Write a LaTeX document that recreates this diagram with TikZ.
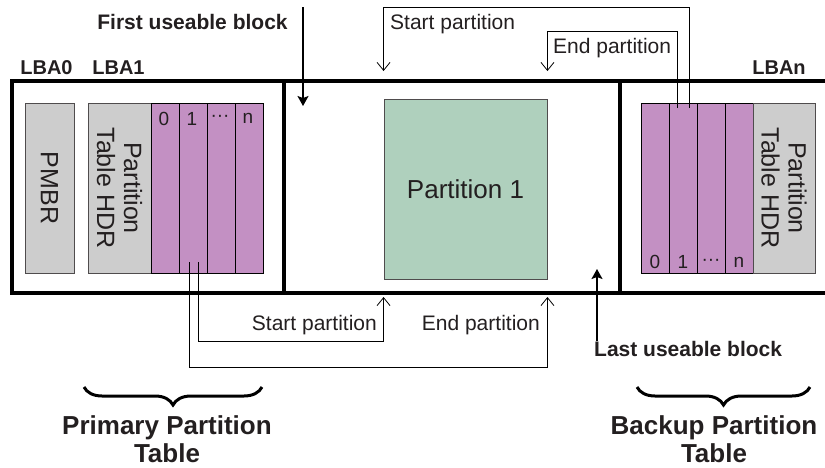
\documentclass[tikz,border=0pt]{standalone}
\usepackage{fontspec}
\setmainfont{Liberation Sans}
\usepackage{tikz}
\usetikzlibrary{calc, arrows.meta, positioning, decorations.pathreplacing}

\definecolor{hdrgray}{RGB}{205,205,205}
\definecolor{entry}{RGB}{195,144,195}
\definecolor{partgreen}{RGB}{175,208,189}
\definecolor{ink}{RGB}{35,31,32}

\begin{document}
\begin{tikzpicture}[
        x=1pt, y=-1pt,
        every node/.style={text=ink},
        frame/.style={line width=4.5pt, line join=miter},
        hdr/.style={draw=ink!80, fill=hdrgray, line width=0.9pt, rotate=-90,
                    align=center, inner sep=0pt, minimum width=170pt,
                    font=\fontsize{25}{27}\selectfont},
        col/.style={draw=black, fill=entry, line width=0.9pt, inner sep=0pt,
                    minimum width=28pt, minimum height=170pt},
        digit/.style={inner sep=0pt, font=\fontsize{19}{19}\selectfont},
        lbl/.style={inner sep=0pt, font=\fontsize{21}{25}\selectfont},
        blbl/.style={inner sep=0pt, font=\bfseries\fontsize{21}{25}\selectfont},
        lba/.style={inner sep=0pt, font=\bfseries\fontsize{20}{24}\selectfont},
        big/.style={inner sep=0pt, align=center, font=\bfseries\fontsize{26}{28}\selectfont},
        link/.style={line width=0.8pt, -{Straight Barb[length=8pt,width=13pt]}},
        fat/.style={line width=1.2pt, -{Stealth[length=10pt,width=11pt,inset=2pt]}},
        tablebrace/.style={line width=3pt, decorate, decoration={brace, amplitude=18pt}}
]
\useasboundingbox (0,0) rectangle (825,467);

%--- disk frame ----------------------------------------------
\coordinate (tl) at (12,81);
\coordinate (bl) at (12,293);
\coordinate (tr) at (825,81);
\coordinate (br) at (825,293);
\draw[frame] (tr) -- (tl) -- (bl) -- (br);
\draw[frame] (tl -| 284,0) -- (bl -| 284,0);   % end of LBA1 area
\draw[frame] (tl -| 620,0) -- (bl -| 620,0);   % start of LBAn area

%--- primary table -------------------------------------------
\node[hdr, minimum height=49pt] (pmbr) at (49.5,188) {PMBR};
\node[hdr, minimum height=63pt] (phdr) at (119.5,188) {Partition\\Table HDR};
\foreach \i/\d in {0/0, 1/1, 2/{···}, 3/n} {
  \node[col] (pcol\i) at (165+28*\i,188) {};
  \node[digit] (pnum\i) at ($(pcol\i.north)+(-1,16)$) {\d};
}

%--- partition -----------------------------------------------
\node[draw=ink!80, fill=partgreen, line width=0.9pt, minimum width=163pt,
      minimum height=180pt, font=\fontsize{26}{30}\selectfont]
      (part1) at (465.5,189) {Partition 1};

%--- backup table --------------------------------------------
\foreach \i/\d in {0/0, 1/1, 2/{···}, 3/n} {
  \node[col] (bcol\i) at (655+28*\i,188) {};
  \node[digit] (bnum\i) at ($(bcol\i.south)+(0,-11)$) {\d};
}
\node[hdr, minimum height=62pt] (bhdr) at (784,188) {Partition\\Table HDR};

%--- LBA labels ----------------------------------------------
\node[lba] (lba0) at (46.5,68) {LBA0};
\node[lba] (lba1) at (118.5,68) {LBA1};
\node[lba] (lban) at (779,68) {LBAn};

%--- useable blocks ------------------------------------------
\node[blbl] (first) at (192.5,22) {First useable block};
\coordinate (firsttail) at (303,7);
\coordinate (firsttip) at (303,106);
\draw[fat] (firsttail) -- (firsttip);

\node[blbl, anchor=west] (last) at (594,349) {Last useable block};
\coordinate (lasttip) at (597,269);
\draw[fat] (last.north west -| lasttip) -- (lasttip);

%--- entry 1 of primary table --------------------------------
\coordinate (bot) at (0,297);
\coordinate (ps1) at ($(pcol1.south)+(5,-11)$);
\coordinate (ps2) at ($(pcol1.south)+(-4,-11)$);
\draw[link] (ps1) -- ++(0,79) -| (part1.south west |- bot);
\draw[link] (ps2) -- ++(0,105) -| (part1.south east |- bot);
\node[lbl, anchor=east] (pstart) at (377,325) {Start partition};
\node[lbl, anchor=east] (pend) at (540,325) {End partition};

%--- entry 1 of backup table ---------------------------------
\coordinate (top) at (0,71);
\coordinate (bs1) at ($(bcol1.north)+(6,5)$);
\coordinate (bs2) at ($(bcol1.north)+(-6,5)$);
\draw[link] (bs1) -- ++(0,-100) -| (part1.north west |- top);
\draw[link] (bs2) -- ++(0,-76) -| (part1.north east |- top);
\node[lbl, anchor=west] (bstart) at (390,24) {Start partition};
\node[lbl, anchor=west] (bend) at (553,48) {End partition};

%--- table braces --------------------------------------------
\draw[tablebrace] (262,387) -- (84,387);
\node[big] (primary) at (167,439) {Primary Partition\\Table};
\draw[tablebrace] (810,387) -- (637,387);
\node[big] (backup) at (714,439) {Backup Partition\\Table};

\end{tikzpicture}
\end{document}
